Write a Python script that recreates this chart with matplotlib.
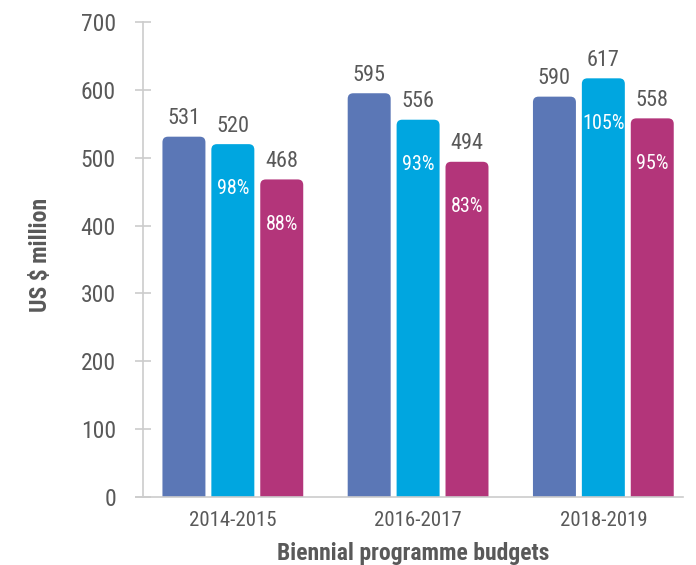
import matplotlib.pyplot as plt
from matplotlib import font_manager
from matplotlib.patches import FancyBboxPatch
import numpy as np

# pick a narrow face if one is around, else fall back
installed = {f.name for f in font_manager.fontManager.ttflist}
narrow = [n for n in ['Roboto Condensed', 'Liberation Sans Narrow', 'Open Sans Condensed',
                      'DejaVu Sans Condensed'] if n in installed]
plt.rcParams['font.family'] = narrow + ['Roboto', 'DejaVu Sans']
plt.rcParams['font.stretch'] = 'condensed'

periods = ['2014-2015', '2016-2017', '2018-2019']
series_a = [531, 595, 590]
series_b = [520, 556, 617]
series_c = [468, 494, 558]
pct_b = ['98%', '93%', '105%']
pct_c = ['88%', '83%', '95%']
colors = ['#5b77b6', '#00a6e0', '#b3357a']

text_col = '#595959'

fig = plt.figure(figsize=(6.96, 5.65), dpi=100)
ax = fig.add_axes([143 / 696, 68 / 565, 540 / 696, 475 / 565])

x = np.arange(len(periods))
width = 0.232
step = 0.264

# px -> data conversions for the rounded tops
aspect = (100 / 67.86) * 185.5
radius = 0.03

all_series = [series_a, series_b, series_c]
for i, (vals, col) in enumerate(zip(all_series, colors)):
    bars = ax.bar(x + (i - 1) * step, vals, width, color=col)
    for b in bars:
        b.set_visible(False)
        patch = FancyBboxPatch((b.get_x(), -50), b.get_width(), b.get_height() + 50,
                               boxstyle=f"round,pad=0,rounding_size={radius}",
                               mutation_aspect=aspect, facecolor=col,
                               edgecolor='none', clip_on=True)
        ax.add_patch(patch)
        ax.text(b.get_x() + b.get_width() / 2, b.get_height() + 11, f"{int(b.get_height())}",
                ha='center', va='bottom', fontsize=16, color=text_col)

for i, (vals, labels) in enumerate([(series_b, pct_b), (series_c, pct_c)]):
    for xi, v, lab in zip(x + i * step, vals, labels):
        ax.text(xi, v - 66, lab, ha='center', va='center', fontsize=14.5, color='white')

ax.set_xlim(-0.485, 2.43)
ax.set_ylim(0, 700)
ax.set_yticks(range(0, 701, 100))
ax.set_xticks(x)
ax.set_xticklabels(periods)

for s in ['top', 'right']:
    ax.spines[s].set_visible(False)
ax.spines['left'].set_color('#cccccc')
ax.spines['bottom'].set_color('#cccccc')
ax.spines['bottom'].set_bounds(-0.525, 2.43)
ax.spines['bottom'].set_clip_on(False)
ax.spines['left'].set_linewidth(1.2)
ax.spines['bottom'].set_linewidth(1.2)

ax.tick_params(axis='y', direction='inout', length=11, width=1.2, color='#cccccc',
               labelsize=17, labelcolor=text_col, pad=14)
ax.tick_params(axis='x', length=0, labelsize=15, labelcolor=text_col, pad=10)

ax.set_ylabel('US $ million', fontsize=17, fontweight='bold', color=text_col)
ax.yaxis.set_label_coords(-0.169, 0.509)
ax.set_xlabel('Biennial programme budgets', fontsize=17, fontweight='bold', color=text_col)
ax.xaxis.set_label_coords(0.5, -0.094)

fig.savefig('out.png', dpi=100)
